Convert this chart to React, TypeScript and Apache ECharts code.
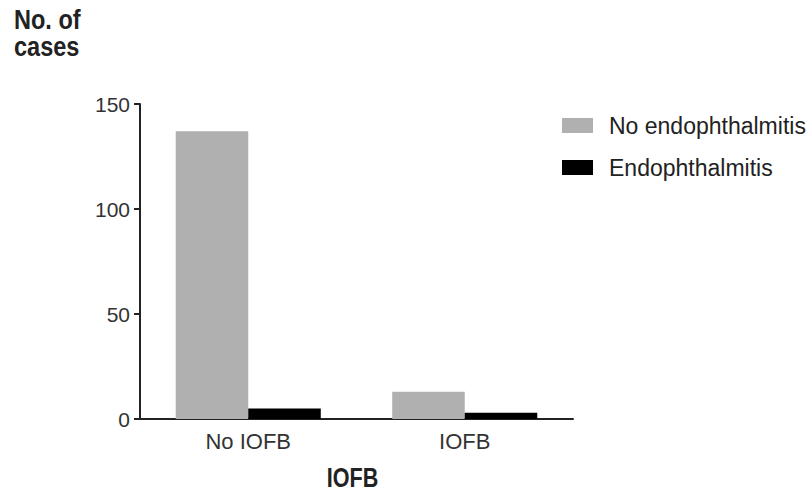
import React, { useEffect, useRef } from "react";
import * as echarts from "echarts";

const categories = ["No IOFB", "IOFB"];
const noEndophthalmitis = [137, 13];
const endophthalmitis = [5, 3];
const yTicks = { min: 0, max: 150, interval: 50 };
const yTitleLines = ["No. of", "cases"];
const xTitle = "IOFB";

export default function App() {
  const ref = useRef<HTMLDivElement>(null);

  useEffect(() => {
    if (!ref.current) return;
    const chart = echarts.init(ref.current, null, { renderer: "svg" });
    const font = "'Liberation Sans', Arial, sans-serif";
    // condensed bold titles: bold face squeezed horizontally
    const titleStyle = {
      fontFamily: font,
      fontWeight: "bold",
      fontSize: 28,
      fill: "#222",
      textVerticalAlign: "top",
    };
    chart.setOption({
      animation: false,
      backgroundColor: "#ffffff",
      grid: { left: 140, right: 235, top: 104, bottom: 73, outerBoundsMode: "none", containLabel: false },
      legend: {
        orient: "vertical",
        left: 562,
        top: 114,
        padding: 0,
        itemWidth: 31,
        itemHeight: 15,
        itemGap: 19,
        icon: "rect",
        textStyle: { fontFamily: font, fontSize: 23, color: "#222", padding: [0, 0, 0, 11] },
        data: ["No endophthalmitis", "Endophthalmitis"],
      },
      graphic: [
        {
          type: "text",
          x: 14,
          y: 5,
          scaleX: 0.84,
          style: { ...titleStyle, text: yTitleLines[0] },
        },
        {
          type: "text",
          x: 14,
          y: 32,
          scaleX: 0.84,
          style: { ...titleStyle, text: yTitleLines[1] },
        },
        {
          type: "text",
          x: 352.5,
          y: 463,
          scaleX: 0.77,
          style: { ...titleStyle, text: xTitle, align: "center" },
        },
      ],
      xAxis: {
        type: "category",
        data: categories,
        axisLine: { lineStyle: { color: "#222", width: 2 } },
        axisTick: { show: false },
        axisLabel: { fontFamily: font, fontSize: 22, color: "#333", margin: 11 },
      },
      yAxis: {
        type: "value",
        min: yTicks.min,
        max: yTicks.max,
        interval: yTicks.interval,
        splitLine: { show: false },
        axisLine: { show: true, lineStyle: { color: "#222", width: 2 } },
        axisTick: { show: true, length: 6, lineStyle: { color: "#222", width: 2 } },
        axisLabel: { fontFamily: font, fontSize: 21, color: "#333", margin: 10 },
      },
      series: [
        {
          name: "No endophthalmitis",
          type: "bar",
          data: noEndophthalmitis,
          barGap: "0%",
          barCategoryGap: "33%",
          itemStyle: { color: "#b0b0b0" },
        },
        {
          name: "Endophthalmitis",
          type: "bar",
          data: endophthalmitis,
          itemStyle: { color: "#000000" },
        },
      ],
    });
    return () => chart.dispose();
  }, []);

  return <div ref={ref} style={{ width: 808, height: 492, position: "absolute", left: 0, top: 0 }} />;
}
